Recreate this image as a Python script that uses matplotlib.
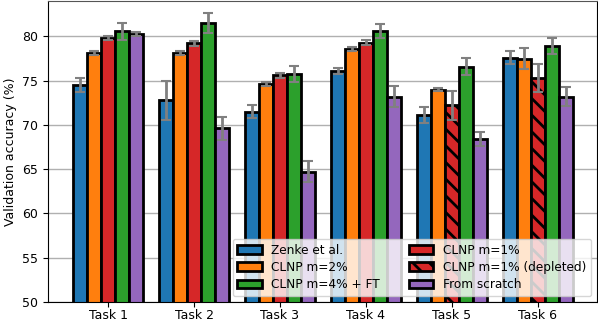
import numpy as np
import matplotlib
matplotlib.use("Agg")
import matplotlib.pyplot as plt

plt.rcParams['font.size'] = 9
plt.rcParams['hatch.linewidth'] = 2.0

tasks = ["Task 1", "Task 2", "Task 3", "Task 4", "Task 5", "Task 6"]

# mean accuracy and std per method
zenke = [74.5, 72.8, 71.5, 76.1, 71.1, 77.6]
zenke_err = [0.8, 2.2, 0.75, 0.3, 0.9, 0.75]
clnp2 = [78.1, 78.1, 74.6, 78.6, 74.0, 77.5]
clnp2_err = [0.2, 0.2, 0.2, 0.2, 0.15, 1.2]
clnp1 = [79.8, 79.2, 75.6, 79.3, 72.2, 75.3]
clnp1_err = [0.2, 0.3, 0.3, 0.3, 1.6, 1.6]
depleted = [False, False, False, False, True, True]
clnp4ft = [80.6, 81.5, 75.8, 80.6, 76.6, 78.9]
clnp4ft_err = [0.95, 1.15, 0.9, 0.75, 1.0, 0.9]
scratch = [80.3, 69.6, 64.7, 73.2, 68.4, 73.2]
scratch_err = [0.2, 1.3, 1.2, 1.15, 0.8, 1.1]

fig = plt.figure(figsize=(5.98, 3.21), dpi=100)
ax = fig.add_axes([48/598, 19/321, 549/598, 301/321])

x = np.arange(len(tasks))
w = 0.163
bar_kw = dict(width=w, edgecolor="black", linewidth=2,
              error_kw=dict(ecolor="gray", elinewidth=2, capsize=3.5, capthick=1.5))

h_zenke = ax.bar(x - 2*w, zenke, yerr=zenke_err, color="tab:blue", label="Zenke et al.", **bar_kw)
h_c2 = ax.bar(x - w, clnp2, yerr=clnp2_err, color="tab:orange", label="CLNP m=2%", **bar_kw)

normal = [i for i in range(len(tasks)) if not depleted[i]]
dep = [i for i in range(len(tasks)) if depleted[i]]
h_c1 = ax.bar(x[normal], [clnp1[i] for i in normal], yerr=[clnp1_err[i] for i in normal],
              color="tab:red", label="CLNP m=1%", **bar_kw)
h_dep = ax.bar(x[dep], [clnp1[i] for i in dep], yerr=[clnp1_err[i] for i in dep],
               color="tab:red", hatch="\\\\", label="CLNP m=1% (depleted)", **bar_kw)

h_c4 = ax.bar(x + w, clnp4ft, yerr=clnp4ft_err, color="tab:green", label="CLNP m=4% + FT", **bar_kw)
h_s = ax.bar(x + 2*w, scratch, yerr=scratch_err, color="tab:purple", label="From scratch", **bar_kw)

ax.set_ylim(50, 84)
ax.set_xlim(-0.7, 5.69)
ax.set_xticks(x)
ax.set_xticklabels(tasks)
ax.tick_params(axis="x", pad=1.5)
ax.set_ylabel("Validation accuracy (%)")
ax.yaxis.grid(True, color="#b0b0b0", linewidth=1)
ax.set_axisbelow(True)
ax.spines["top"].set_color("#555555")

ax.legend([h_zenke, h_c2, h_c4, h_c1, h_dep, h_s],
          ["Zenke et al.", "CLNP m=2%", "CLNP m=4% + FT", "CLNP m=1%",
           "CLNP m=1% (depleted)", "From scratch"],
          ncol=2, loc="lower right", handlelength=2.0, labelspacing=0.35,
          columnspacing=2.4, borderpad=0.4, fontsize=8.7)

plt.savefig("out.png", dpi=100)
